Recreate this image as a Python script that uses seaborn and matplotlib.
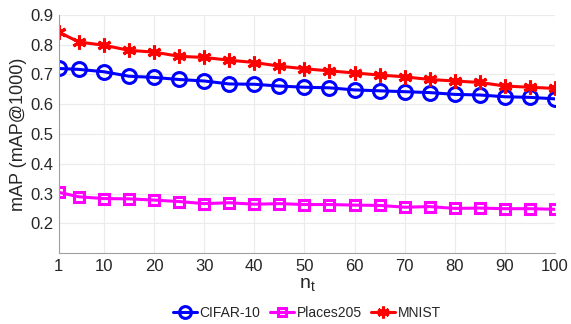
import matplotlib
matplotlib.use("Agg")
import matplotlib.pyplot as plt
import seaborn as sns
import pandas as pd

n_t = [1, 5, 10, 15, 20, 25, 30, 35, 40, 45, 50, 55, 60, 65, 70, 75, 80, 85, 90, 95, 100]
cifar10 = [0.720, 0.717, 0.709, 0.694, 0.690, 0.683, 0.678, 0.668, 0.667, 0.661, 0.657,
           0.655, 0.648, 0.645, 0.642, 0.639, 0.633, 0.631, 0.625, 0.623, 0.618]
places205 = [0.304, 0.289, 0.283, 0.282, 0.278, 0.273, 0.266, 0.269, 0.264, 0.266, 0.263,
             0.263, 0.261, 0.260, 0.254, 0.256, 0.250, 0.251, 0.249, 0.249, 0.247]
mnist = [0.842, 0.809, 0.798, 0.781, 0.775, 0.761, 0.757, 0.748, 0.740, 0.728, 0.719,
         0.712, 0.705, 0.698, 0.692, 0.683, 0.678, 0.673, 0.661, 0.657, 0.653]

series = {"CIFAR-10": cifar10, "Places205": places205, "MNIST": mnist}
df = pd.concat(
    [pd.DataFrame({"n_t": n_t, "mAP": v, "dataset": k}) for k, v in series.items()],
    ignore_index=True,
)

sns.set_theme(style="whitegrid")
plt.rcParams["font.family"] = ["Liberation Sans", "DejaVu Sans"]

fig, ax = plt.subplots(figsize=(5.71, 3.24), dpi=100)
fig.subplots_adjust(left=0.103, right=0.972, top=0.954, bottom=0.219)

styles = {
    "CIFAR-10": dict(color="#0000ff", marker="o", markersize=10, mfc="none"),
    "Places205": dict(color="#ff00ff", marker="s", markersize=7.5, mfc="none"),
    "MNIST": dict(color="#ff0000", marker=(6, 2, 0), markersize=10),
}
for name in series:
    st = styles[name]
    sns.lineplot(data=df[df["dataset"] == name], x="n_t", y="mAP", ax=ax,
                 color=st["color"], marker=st["marker"], markersize=st["markersize"],
                 markerfacecolor=st["mfc"] if st.get("mfc") else st["color"],
                 markeredgecolor=st["color"], markeredgewidth=2.2,
                 linewidth=2.2, label=name)

ax.set_xlim(1, 100)
ax.set_ylim(0.1, 0.9)
ax.set_xticks([1, 10, 20, 30, 40, 50, 60, 70, 80, 90, 100])
ax.set_yticks([0.2, 0.3, 0.4, 0.5, 0.6, 0.7, 0.8, 0.9])
ax.set_yticklabels(["0.2", "0.3", "0.4", "0.5", "0.6", "0.7", "0.8", "0.9"])
ax.tick_params(labelsize=12, colors="#262626", length=0, pad=4)
ax.grid(True, color="#ebebeb", linewidth=0.8)
for side in ["top", "right"]:
    ax.spines[side].set_visible(False)
for side in ["left", "bottom"]:
    ax.spines[side].set_color("#a0a0a0")
    ax.spines[side].set_linewidth(0.8)

ax.set_xlabel("n$_\\mathregular{t}$", fontsize=14, color="#262626", labelpad=2)
ax.set_ylabel("mAP (mAP@1000)", fontsize=13, color="#262626", labelpad=2)

ax.legend(loc="upper center", bbox_to_anchor=(0.5, -0.2), ncol=3, frameon=False,
          fontsize=10, handlelength=1.7, handletextpad=0.2, columnspacing=0.7,
          borderaxespad=0, markerscale=0.85)

fig.savefig("out.png", dpi=100)
